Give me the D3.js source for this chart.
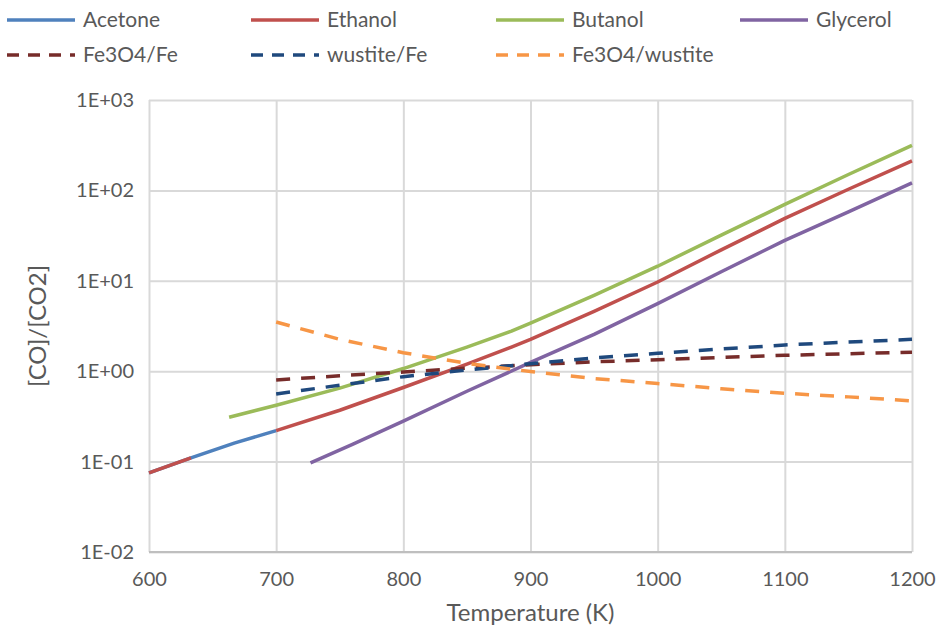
<!DOCTYPE html>
<html>
<head>
<meta charset="utf-8">
<script src="https://cdn.jsdelivr.net/npm/d3@7"></script>
<style>
  body { margin: 0; background: #fff; }
  text { font-family: Lato, "Open Sans", sans-serif; fill: #595959; }
</style>
</head>
<body>
<div class="graph"></div>
<script>
// temperatures (K) for each series
const tAcetone  = [600, 633, 667, 700];
const tEthanol  = [600, 633, 667, 700, 750, 800, 850, 885, 900, 950, 1000, 1050, 1100, 1150, 1200];
const tButanol  = [663, 700, 750, 800, 850, 885, 900, 950, 1000, 1050, 1100, 1150, 1200];
const tGlycerol = [727, 760, 800, 850, 900, 950, 1000, 1050, 1100, 1150, 1200];
const tIron     = [700, 750, 800, 850, 900, 950, 1000, 1050, 1100, 1150, 1200];

// [CO]/[CO2] values (null = gap)
const acetone  = [0.075, 0.11, 0.16, 0.22];
const ethanol  = [0.075, 0.11, null, 0.22, 0.37, 0.66, 1.2, 1.85, 2.25, 4.6, 9.7, 22, 49, 103, 212];
const butanol  = [0.31, 0.42, 0.65, 1.07, 1.85, 2.77, 3.4, 6.9, 14.5, 32, 70, 150, 315];
const glycerol = [0.097, 0.155, 0.28, 0.6, 1.25, 2.55, 5.6, 12.6, 28, 58, 121];
const fe3o4Fe      = [0.80, 0.89, 0.98, 1.08, 1.18, 1.27, 1.34, 1.42, 1.50, 1.56, 1.62];
const wustiteFe    = [0.56, 0.70, 0.87, 1.03, 1.21, 1.40, 1.58, 1.76, 1.95, 2.10, 2.25];
const fe3o4Wustite = [3.5, 2.25, 1.6, 1.22, 0.99, 0.83, 0.73, 0.64, 0.57, 0.52, 0.47];

const xTicks = [600, 700, 800, 900, 1000, 1100, 1200];
const yTicks = [1e-2, 1e-1, 1e0, 1e1, 1e2, 1e3];

const series = [
  {name: "Acetone",       t: tAcetone,  v: acetone,      color: "#4F81BD", dash: null},
  {name: "Ethanol",       t: tEthanol,  v: ethanol,      color: "#C0504D", dash: null},
  {name: "Butanol",       t: tButanol,  v: butanol,      color: "#9BBB59", dash: null},
  {name: "Glycerol",      t: tGlycerol, v: glycerol,     color: "#8064A2", dash: null},
  {name: "Fe3O4/Fe",      t: tIron,     v: fe3o4Fe,      color: "#772C2A", dash: "14,11"},
  {name: "wustite/Fe",    t: tIron,     v: wustiteFe,    color: "#1F497D", dash: "14,11"},
  {name: "Fe3O4/wustite", t: tIron,     v: fe3o4Wustite, color: "#F79646", dash: "14,11"}
];

const SIZE = {X: 942, Y: 629};
const MARGIN = {TOP: 100, BOTTOM: 77, LEFT: 149, RIGHT: 30};
const DIM = {WIDTH: SIZE.X - MARGIN.LEFT - MARGIN.RIGHT,
             HEIGHT: SIZE.Y - MARGIN.TOP - MARGIN.BOTTOM};

const svg = d3.select(".graph").append("svg")
    .attr("width", SIZE.X)
    .attr("height", SIZE.Y);

const graph = svg.append("g")
    .attr("transform", `translate(${MARGIN.LEFT}, ${MARGIN.TOP})`);

const x = d3.scaleLinear().domain([600, 1200]).range([0, DIM.WIDTH]);
const y = d3.scaleLog().domain([1e-2, 1e3]).range([DIM.HEIGHT, 0]);

const fmt = d => {
  const e = Math.round(Math.log10(d));
  return "1E" + (e < 0 ? "-" : "+") + String(Math.abs(e)).padStart(2, "0");
};

// gridlines + axes
const yAxis = graph.append("g")
    .call(d3.axisLeft(y).tickValues(yTicks).tickFormat(fmt).tickSize(-DIM.WIDTH).tickPadding(15));
const xAxis = graph.append("g")
    .attr("transform", `translate(0, ${DIM.HEIGHT})`)
    .call(d3.axisBottom(x).tickValues(xTicks).tickFormat(d3.format("d")).tickSize(-DIM.HEIGHT).tickPadding(20));

[xAxis, yAxis].forEach(a => {
  a.select(".domain").remove();
  a.selectAll(".tick line").attr("stroke", "#D9D9D9").attr("stroke-width", 2);
  a.selectAll(".tick text").style("font-size", "20px").attr("fill", "#595959");
});
// bottom axis line
graph.append("line")
    .attr("x1", 0).attr("x2", DIM.WIDTH)
    .attr("y1", DIM.HEIGHT).attr("y2", DIM.HEIGHT)
    .attr("stroke", "#BFBFBF").attr("stroke-width", 2);

// axis titles
svg.append("text")
    .attr("x", MARGIN.LEFT + DIM.WIDTH / 2)
    .attr("y", 621)
    .attr("text-anchor", "middle")
    .style("font-size", "24px")
    .text("Temperature (K)");
svg.append("text")
    .attr("transform", `translate(46, ${MARGIN.TOP + DIM.HEIGHT / 2}) rotate(-90)`)
    .attr("text-anchor", "middle")
    .style("font-size", "24px")
    .text("[CO]/[CO2]");

// lines
const line = d3.line()
    .defined(d => d.v != null)
    .x(d => x(d.t))
    .y(d => y(d.v));

series.forEach(s => {
  const pts = s.t.map((t, i) => ({t: t, v: s.v[i]}));
  graph.append("path")
      .datum(pts)
      .attr("fill", "none")
      .attr("stroke", s.color)
      .attr("stroke-width", 3.5)
      .attr("stroke-linejoin", "round")
      .attr("stroke-dasharray", s.dash)
      .attr("d", line);
});

// legend
const legCols = [7, 251, 496, 740];
const legend = svg.append("g");
series.forEach((s, i) => {
  const lx = legCols[i % 4];
  const ly = i < 4 ? 20 : 55;
  legend.append("line")
      .attr("x1", lx).attr("x2", lx + 68)
      .attr("y1", ly).attr("y2", ly)
      .attr("stroke", s.color)
      .attr("stroke-width", 3.5)
      .attr("stroke-dasharray", s.dash ? "12,9" : null);
  legend.append("text")
      .attr("x", lx + 76)
      .attr("y", ly)
      .attr("dy", "0.35em")
      .style("font-size", "21px")
      .text(s.name);
});
</script>
</body>
</html>
